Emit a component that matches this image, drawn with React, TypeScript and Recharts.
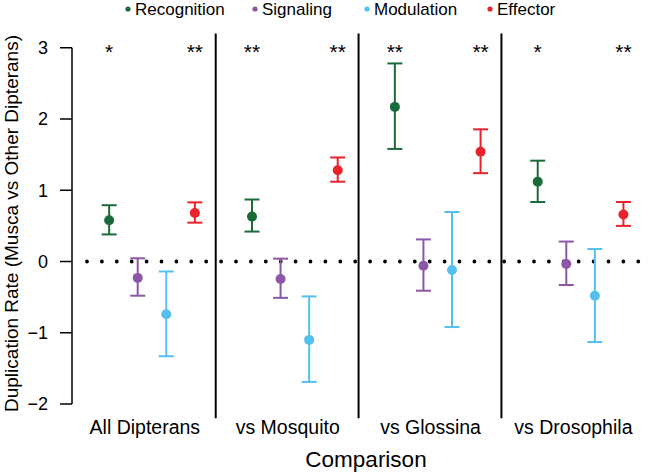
import React from 'react';
import { ScatterChart, Scatter, XAxis, YAxis, ReferenceLine, ErrorBar } from 'recharts';

const comparisons = ['All Dipterans', 'vs Mosquito', 'vs Glossina', 'vs Drosophila'];
const seriesNames = ['Recognition', 'Signaling', 'Modulation', 'Effector'];
const seriesColors = ['#1b6b3a', '#8b57a6', '#55c0ee', '#e8232a'];

const recognitionMean = [0.58, 0.63, 2.17, 1.12];
const recognitionLower = [0.38, 0.42, 1.58, 0.835];
const recognitionUpper = [0.79, 0.87, 2.78, 1.415];

const signalingMean = [-0.23, -0.245, -0.06, -0.035];
const signalingLower = [-0.48, -0.51, -0.41, -0.33];
const signalingUpper = [0.045, 0.04, 0.31, 0.28];

const modulationMean = [-0.74, -1.1, -0.12, -0.48];
const modulationLower = [-1.33, -1.69, -0.92, -1.13];
const modulationUpper = [-0.14, -0.49, 0.695, 0.175];

const effectorMean = [0.68, 1.28, 1.54, 0.66];
const effectorLower = [0.545, 1.12, 1.24, 0.5];
const effectorUpper = [0.83, 1.46, 1.855, 0.835];

const recognitionStars = ['*', '**', '**', '*'];
const effectorStars = ['**', '**', '**', '**'];

const yTicks = [-2, -1, 0, 1, 2, 3];
const starLevel = 3;

// layout constants
const W = 653;
const H = 473;
const PLOT_LEFT = 72;
const PLOT_TOP = 33.5;
const PLOT_BOTTOM = 418.25;
const X_DOMAIN: [number, number] = [-0.3, 20];
const Y_DOMAIN: [number, number] = [-2.2, 3.2];
const GROUP_STEP = 5;
const FONT = '"Liberation Sans", Arial, Helvetica, sans-serif';

const means = [recognitionMean, signalingMean, modulationMean, effectorMean];
const lowers = [recognitionLower, signalingLower, modulationLower, effectorLower];
const uppers = [recognitionUpper, signalingUpper, modulationUpper, effectorUpper];

const seriesData = seriesNames.map((name, s) =>
  comparisons.map((c, g) => ({
    x: g * GROUP_STEP + s + 1,
    y: means[s][g],
    err: [means[s][g] - lowers[s][g], uppers[s][g] - means[s][g]],
    comparison: c,
  }))
);

const starData = [
  ...comparisons.map((c, g) => ({ x: g * GROUP_STEP + 1, y: starLevel, label: recognitionStars[g] })),
  ...comparisons.map((c, g) => ({ x: g * GROUP_STEP + 4, y: starLevel, label: effectorStars[g] })),
];

const groupCenters = comparisons.map((c, g) => g * GROUP_STEP + 2.25);
const separators = [1, 2, 3].map((g) => g * GROUP_STEP - 0.27);

const CategoryTick = (props: any) => {
  const { x, payload } = props;
  const idx = Math.round((payload.value - 2.25) / GROUP_STEP);
  return (
    <text x={x} y={PLOT_BOTTOM + 16} textAnchor="middle" fontSize={19.5} fontFamily={FONT} fill="#000">
      {comparisons[idx]}
    </text>
  );
};

const yTickFmt = (v: number) => (v < 0 ? '\u2212' + Math.abs(v) : String(v));

const legendX = [128, 255, 367, 490];

export default function App() {
  return (
    <div style={{ position: 'absolute', left: 0, top: 0, width: W, height: H, background: '#fff' }}>
      <div style={{ position: 'absolute', left: 0, top: 0 }}>
        <ScatterChart
          width={W}
          height={H}
          margin={{ top: PLOT_TOP, right: W - 652, bottom: 0, left: 0 }}
        >
          <XAxis
            type="number"
            dataKey="x"
            domain={X_DOMAIN}
            ticks={groupCenters}
            interval={0}
            axisLine={false}
            tickLine={false}
            tick={<CategoryTick />}
            height={H - PLOT_BOTTOM}
            allowDataOverflow
          />
          <YAxis
            type="number"
            dataKey="y"
            domain={Y_DOMAIN}
            ticks={yTicks}
            interval={0}
            width={PLOT_LEFT}
            axisLine={false}
            tickLine={{ stroke: '#000', strokeWidth: 1.5 }}
            tickSize={12}
            tickMargin={12}
            tickFormatter={yTickFmt}
            tick={{ fill: '#000', fontSize: 18, fontFamily: FONT }}
            allowDataOverflow
          />
          <ReferenceLine
            segment={[{ x: X_DOMAIN[0], y: yTicks[0] }, { x: X_DOMAIN[0], y: yTicks[yTicks.length - 1] }]}
            stroke="#000"
            strokeWidth={1.5}
          />
          {separators.map((sx) => (
            <ReferenceLine key={sx} x={sx} stroke="#000" strokeWidth={2} />
          ))}
          <ReferenceLine
            segment={[{ x: 0.225, y: 0 }, { x: X_DOMAIN[1], y: 0 }]}
            stroke="#000"
            strokeWidth={3.8}
            strokeDasharray="0 14.9"
            strokeLinecap="round"
          />
          {seriesNames.map((name, s) => (
            <Scatter
              key={name}
              name={name}
              data={seriesData[s]}
              fill={seriesColors[s]}
              isAnimationActive={false}
              shape={(p: any) => <circle cx={p.cx} cy={p.cy} r={5} fill={seriesColors[s]} />}
            >
              <ErrorBar dataKey="err" direction="y" width={7.5} strokeWidth={2} stroke={seriesColors[s]} />
            </Scatter>
          ))}
          <Scatter
            name="significance"
            data={starData}
            isAnimationActive={false}
            shape={(p: any) => (
              <text x={p.cx} y={p.cy + 11.5} textAnchor="middle" fontSize={21} fontFamily={FONT} fill="#000">
                {p.payload.label}
              </text>
            )}
          />
        </ScatterChart>
      </div>
      <svg width={W} height={H} style={{ position: 'absolute', left: 0, top: 0, pointerEvents: 'none' }}>
        <text
          transform={`translate(17.5, 223.5) rotate(-90)`}
          textAnchor="middle"
          fontSize={19}
          fontFamily={FONT}
          fill="#000"
        >
          Duplication Rate (Musca vs Other Dipterans)
        </text>
        <text x={366} y={467} textAnchor="middle" fontSize={22.5} fontFamily={FONT} fill="#000">
          Comparison
        </text>
        {seriesNames.map((name, s) => (
          <g key={name}>
            <circle cx={legendX[s]} cy={9} r={2.6} fill={seriesColors[s]} />
            <text x={legendX[s] + 7} y={14.5} fontSize={17} fontFamily={FONT} fill="#000">
              {name}
            </text>
          </g>
        ))}
      </svg>
    </div>
  );
}
